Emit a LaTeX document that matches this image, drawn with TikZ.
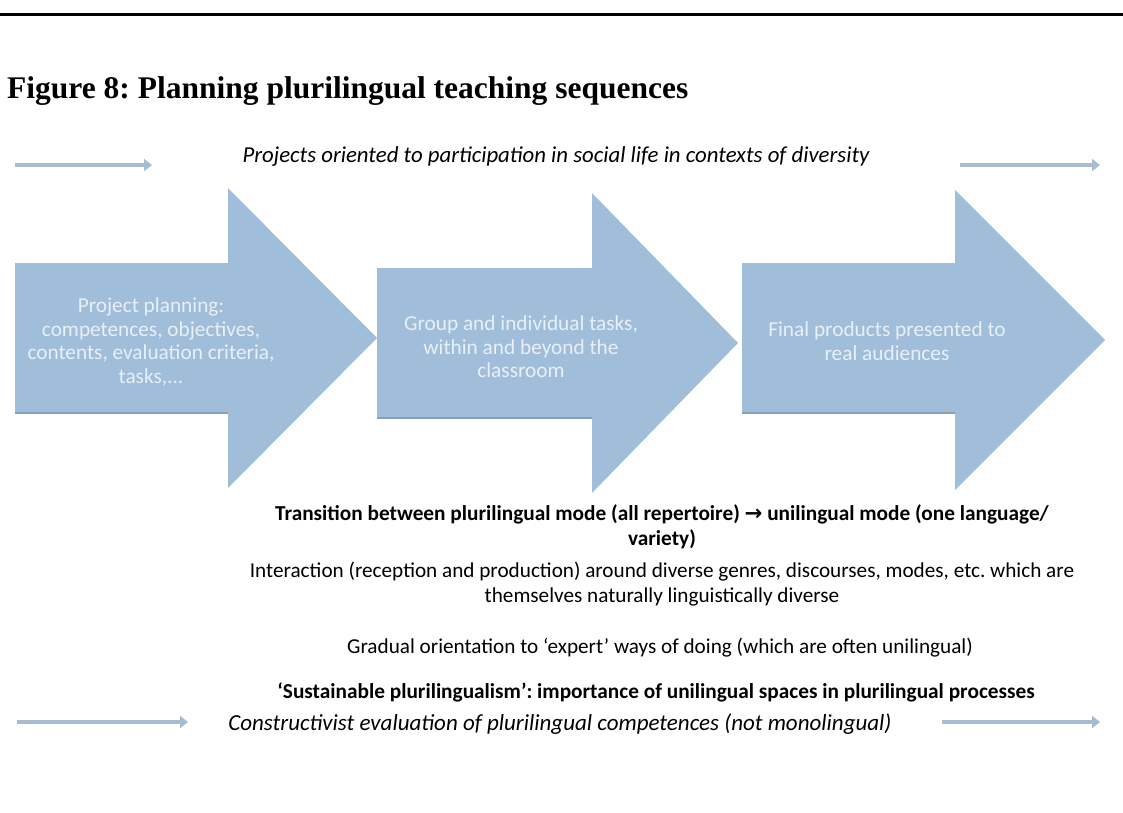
\documentclass[tikz,border=0pt]{standalone}
\usepackage{fontspec}
\setmainfont{Carlito}
\newfontfamily\titlefont{Liberation Serif}
\newfontfamily\symfont{DejaVu Sans}
\usetikzlibrary{arrows.meta}
\definecolor{arrowblue}{RGB}{160,190,218}
\definecolor{arrowshade}{RGB}{138,160,184}
\definecolor{thinblue}{RGB}{166,188,209}
\definecolor{paletext}{RGB}{233,239,246}
\frenchspacing
\begin{document}
\begin{tikzpicture}[x=1pt,y=-1pt,
  bigarrow/.style={fill=arrowblue,draw=none},
  bodyshade/.style={draw=arrowshade,line width=2pt},
  inarrow/.style={text=paletext,align=center,inner sep=0pt,font=\fontsize{21.3}{23.5}\selectfont},
  flow/.style={draw=thinblue,line width=4.5pt,-{Triangle[length=8pt,width=12pt]}},
  caption/.style={align=center,inner sep=0pt,font=\fontsize{21.2}{25}\selectfont},
  boldcaption/.style={caption,font=\bfseries\fontsize{21.3}{25}\selectfont},
  italcaption/.style={caption,font=\itshape\fontsize{22.8}{26}\selectfont},
  ]
\useasboundingbox (0,0) rectangle (1123,812);

% rule above the heading
\draw[line width=3pt] (0,14) -- (1123,14);

% heading
\node[anchor=west,inner sep=0pt,font=\titlefont\bfseries\fontsize{31.5}{34}\selectfont] (title) at (7,91)
  {Figure 8: Planning plurilingual teaching sequences};

% top band: flow arrows and motto
\coordinate (tl0) at (15,165);  \coordinate (tl1) at (152,165);
\coordinate (tr0) at (960,165); \coordinate (tr1) at (1100,165);
\draw[flow] (tl0) -- (tl1);
\draw[flow] (tr0) -- (tr1);
\node[italcaption] (motto) at (556,157)
  {Projects oriented to participation in social life in contexts of diversity};

% three block arrows
\path[bigarrow] (15,263) -- (228,263) -- (228,188) -- (377,338) -- (228,488) -- (228,413) -- (15,413) -- cycle;
\draw[bodyshade] (15,413) -- (228,413);
\path[bigarrow] (377,268) -- (592,268) -- (592,193) -- (738,343) -- (592,493) -- (592,418) -- (377,418) -- cycle;
\draw[bodyshade] (377,418) -- (592,418);
\path[bigarrow] (742,263) -- (955,263) -- (955,190) -- (1105,340) -- (955,490) -- (955,413) -- (742,413) -- cycle;
\draw[bodyshade] (742,413) -- (955,413);

\node[inarrow] (plan) at (151,342)
  {Project planning:\\competences, objectives,\\contents, evaluation criteria,\\tasks,...};
\node[inarrow] (tasks) at (521,347)
  {Group and individual tasks,\\within and beyond the\\classroom};
\node[inarrow] (final) at (887,341)
  {Final products presented to\\real audiences};

% explanatory lines
\node[boldcaption] (trans) at (662,527)
  {Transition between plurilingual mode (all repertoire) {\symfont\bfseries →} unilingual mode (one language/\\variety)};
\node[caption] (inter) at (662,584)
  {Interaction (reception and production) around diverse genres, discourses, modes, etc. which are\\themselves naturally linguistically diverse};
\node[caption] (grad) at (660,648)
  {Gradual orientation to ‘expert’ ways of doing (which are often unilingual)};
\node[boldcaption] (sust) at (656,692)
  {‘Sustainable plurilingualism’: importance of unilingual spaces in plurilingual processes};

% bottom band: flow arrows and evaluation note
\coordinate (bl0) at (17,722);  \coordinate (bl1) at (188,722);
\coordinate (br0) at (942,722); \coordinate (br1) at (1100,722);
\draw[flow] (bl0) -- (bl1);
\draw[flow] (br0) -- (br1);
\node[italcaption,font=\itshape\fontsize{23}{26}\selectfont] (evalnote) at (560,724)
  {Constructivist evaluation of plurilingual competences (not monolingual)};
\end{tikzpicture}
\end{document}
